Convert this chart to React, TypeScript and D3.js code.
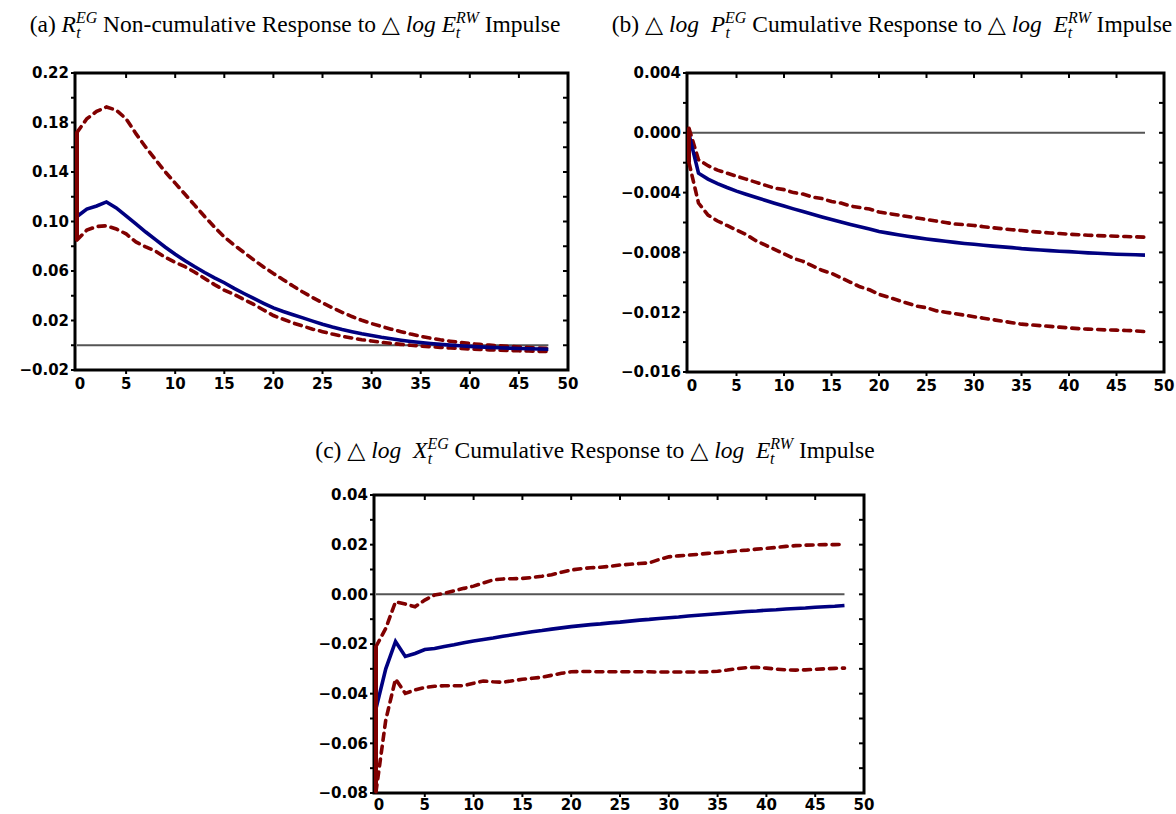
import React from 'react';
import * as d3 from 'd3';

const W = 1176;
const H = 814;

// horizon 0..48
const periods = d3.range(0, 49);
const xTicks = [0, 5, 10, 15, 20, 25, 30, 35, 40, 45, 50];

// (a) R non-cumulative response
const aMedian = [
  0.104, 0.11, 0.1125, 0.1158, 0.111, 0.1045, 0.098, 0.0915, 0.0853, 0.0792,
  0.0735, 0.0683, 0.0634, 0.0588, 0.0545, 0.0505, 0.046, 0.0418, 0.0378, 0.0339,
  0.0302, 0.0273, 0.0247, 0.0221, 0.0195, 0.017, 0.0148, 0.0128, 0.011, 0.0093,
  0.0078, 0.0064, 0.0052, 0.0041, 0.0031, 0.0022, 0.0014, 0.0007, 0.0001, -0.0004,
  -0.0009, -0.0013, -0.0017, -0.002, -0.0023, -0.0026, -0.0028, -0.003, -0.0032
];
const aUpper = [
  0.172, 0.183, 0.189, 0.1925, 0.19, 0.183, 0.171, 0.16, 0.15, 0.14,
  0.131, 0.122, 0.113, 0.104, 0.0955, 0.0875, 0.081, 0.075, 0.069, 0.0633,
  0.058, 0.053, 0.0478, 0.043, 0.0385, 0.0342, 0.0303, 0.0266, 0.0232, 0.0202,
  0.0175, 0.0152, 0.013, 0.011, 0.009, 0.0072, 0.0057, 0.0044, 0.0033, 0.0023,
  0.0014, 0.0007, 0.0001, -0.0004, -0.0009, -0.0014, -0.0018, -0.0022, -0.0026
];
const aLower = [
  0.085, 0.093, 0.096, 0.0965, 0.094, 0.09, 0.0835, 0.0795, 0.076, 0.071,
  0.067, 0.0635, 0.059, 0.054, 0.049, 0.0445, 0.041, 0.037, 0.033, 0.0285,
  0.024, 0.021, 0.018, 0.0155, 0.013, 0.011, 0.009, 0.0073, 0.0058, 0.0045,
  0.0034, 0.0024, 0.0015, 0.0007, 0.0, -0.0006, -0.0012, -0.0017, -0.0022, -0.0026,
  -0.003, -0.0034, -0.0037, -0.004, -0.0043, -0.0045, -0.0047, -0.0049, -0.0051
];

// (b) P cumulative response
const bMedian = [
  -0.0001, -0.0027, -0.0031, -0.0034, -0.00366, -0.0039, -0.00411, -0.00431, -0.00451, -0.00471,
  -0.0049, -0.00509, -0.00527, -0.00545, -0.00563, -0.0058, -0.00597, -0.00613, -0.00628, -0.00643,
  -0.0066, -0.00671, -0.00682, -0.00692, -0.00701, -0.0071, -0.00718, -0.00726, -0.00733, -0.0074,
  -0.00746, -0.00752, -0.00758, -0.00763, -0.00768, -0.00775, -0.0078, -0.00784, -0.00788, -0.00792,
  -0.00795, -0.00799, -0.00803, -0.00806, -0.00809, -0.00812, -0.00814, -0.00816, -0.00818
];
const bUpper = [
  0.0003, -0.0018, -0.0022, -0.0025, -0.0027, -0.0029, -0.0031, -0.0033, -0.0035, -0.0037,
  -0.0038, -0.004, -0.0041, -0.0043, -0.0044, -0.0046, -0.0047, -0.0049, -0.005, -0.0051,
  -0.0053, -0.0054, -0.0055, -0.0056, -0.0057, -0.0058, -0.0059, -0.006, -0.0061, -0.00615,
  -0.0062, -0.00628, -0.00635, -0.00642, -0.00648, -0.00654, -0.0066, -0.00665, -0.0067, -0.00674,
  -0.00678, -0.00682, -0.00685, -0.00688, -0.0069, -0.00692, -0.00694, -0.00696, -0.00698
];
const bLower = [
  -0.002, -0.0047, -0.0055, -0.0059, -0.0062, -0.0065, -0.0068, -0.0072, -0.0075, -0.0078,
  -0.0081, -0.0084, -0.0086, -0.0089, -0.0092, -0.0094, -0.0097, -0.01, -0.0103, -0.0105,
  -0.0108, -0.011, -0.0112, -0.0114, -0.0116, -0.0117, -0.0119, -0.012, -0.0121, -0.0122,
  -0.0123, -0.0124, -0.0125, -0.0126, -0.0127, -0.0128, -0.01285, -0.0129, -0.01295, -0.013,
  -0.01305, -0.0131, -0.01313, -0.01316, -0.01319, -0.0132, -0.01322, -0.01325, -0.0133
];

// (c) X cumulative response
const cMedian = [
  -0.046, -0.03, -0.019, -0.025, -0.0238, -0.0222, -0.0218, -0.021, -0.0203, -0.0195,
  -0.0188, -0.0182, -0.0176, -0.0169, -0.0163, -0.0157, -0.0151, -0.0146, -0.014, -0.0135,
  -0.013, -0.0126, -0.0122, -0.0119, -0.0115, -0.0112, -0.0108, -0.0104, -0.0101, -0.0097,
  -0.0094, -0.0091, -0.0087, -0.0084, -0.0081, -0.0078, -0.0075, -0.0072, -0.0069, -0.0067,
  -0.0064, -0.0062, -0.0059, -0.0057, -0.0055, -0.0052, -0.005, -0.0048, -0.0045
];
const cUpper = [
  -0.021, -0.0137, -0.003, -0.0039, -0.005, -0.0023, -0.0003, 0.0004, 0.0014, 0.0024,
  0.0033, 0.0046, 0.0058, 0.0062, 0.0063, 0.0064, 0.0068, 0.0073, 0.0079, 0.0089,
  0.0098, 0.0103, 0.0107, 0.0109, 0.0113, 0.0118, 0.0121, 0.0124, 0.0127, 0.014,
  0.0151, 0.0155, 0.0158, 0.0161, 0.0165, 0.0168, 0.0171, 0.0175, 0.0178, 0.0182,
  0.0185, 0.0189, 0.0193, 0.0196, 0.0198, 0.0199, 0.02, 0.02, 0.0201
];
const cLower = [
  -0.0795, -0.0506, -0.0341, -0.0399, -0.0385, -0.0375, -0.037, -0.0368, -0.0368, -0.0368,
  -0.0358, -0.0349, -0.0352, -0.0354, -0.0348, -0.0342, -0.0338, -0.0334, -0.0326, -0.0318,
  -0.0312, -0.0311, -0.0311, -0.0312, -0.0312, -0.0312, -0.0312, -0.0312, -0.0312, -0.0313,
  -0.0313, -0.0313, -0.0313, -0.0313, -0.0312, -0.031, -0.0305, -0.0299, -0.0295, -0.0294,
  -0.0297, -0.0301, -0.0304, -0.0305, -0.0304, -0.0302, -0.03, -0.0298, -0.0297
];

const aYTicks = [-0.02, 0.02, 0.06, 0.1, 0.14, 0.18, 0.22];
const bYTicks = [-0.016, -0.012, -0.008, -0.004, 0.0, 0.004];
const cYTicks = [-0.08, -0.06, -0.04, -0.02, 0.0, 0.02, 0.04];

const RED = '#800000';
const BLUE = '#000080';
const tickFont = '"DejaVu Sans", sans-serif';
const titleFont = '"Liberation Serif", "DejaVu Serif", serif';

function Panel({ box, yDomain, yTicks, minorStep, digits, median, upper, lower, labelDy = 19 }) {
  const x = d3.scaleLinear().domain([0, 50]).range([box.left + 2, box.right]);
  const y = d3.scaleLinear().domain(yDomain).range([box.bottom, box.top]);
  const line = d3.line<number>().x((_, i) => x(periods[i])).y(d => y(d));
  const fmt = d3.format(`.${digits}f`);
  const minor = d3.range(Math.round((yDomain[1] - yDomain[0]) / minorStep) + 1).map(i => yDomain[0] + i * minorStep);
  const tl = 5;
  return (
    <g>
      {/* frame and ticks */}
      <rect x={box.left} y={box.top} width={box.right - box.left} height={box.bottom - box.top} fill="none" stroke="#000" strokeWidth={3} />
      {minor.map((v, i) => (
        <g key={'m' + i}>
          <line x1={box.left} x2={box.left - 4} y1={y(v)} y2={y(v)} stroke="#000" strokeWidth={2} />
          <line x1={box.right} x2={box.right - tl} y1={y(v)} y2={y(v)} stroke="#000" strokeWidth={2} />
        </g>
      ))}
      {xTicks.slice(1, -1).map(t => (
        <g key={'xt' + t}>
          <line x1={x(t)} x2={x(t)} y1={box.top} y2={box.top + tl} stroke="#000" strokeWidth={2} />
          <line x1={x(t)} x2={x(t)} y1={box.bottom} y2={box.bottom + 4} stroke="#000" strokeWidth={2} />
        </g>
      ))}
      {yTicks.map(t => (
        <text key={'yl' + t} x={box.left - 6} y={y(t)} dy="0.36em" textAnchor="end"
          fontFamily={tickFont} fontWeight="bold" fontSize={15}>{fmt(t)}</text>
      ))}
      {xTicks.map(t => (
        <text key={'xl' + t} x={t === 0 ? x(t) + 3 : x(t)} y={box.bottom + labelDy} textAnchor="middle"
          fontFamily={tickFont} fontWeight="bold" fontSize={15}>{t}</text>
      ))}
      {/* zero line */}
      <line x1={x(0)} x2={x(48)} y1={y(0)} y2={y(0)} stroke="#555" strokeWidth={2} />
      {/* confidence bands and median */}
      <path d={line(upper)} fill="none" stroke={RED} strokeWidth={3.6} strokeDasharray="7,6" strokeLinecap="round" />
      <path d={line(lower)} fill="none" stroke={RED} strokeWidth={3.6} strokeDasharray="7,6" strokeLinecap="round" />
      <path d={line(median)} fill="none" stroke={BLUE} strokeWidth={3.6} />
      <line x1={x(0)} x2={x(0)} y1={y(upper[0])} y2={y(lower[0])} stroke={RED} strokeWidth={4} />
    </g>
  );
}

// a variable with stacked superscript and subscript t
function Var({ base, sup, supW }) {
  return (
    <>
      <tspan fontStyle="italic">{base}</tspan>
      <tspan fontStyle="italic" fontSize={16} dy={-9}>{sup}</tspan>
      <tspan fontStyle="italic" fontSize={16} dx={-supW} dy={15}>t</tspan>
      <tspan dx={supW - 4.5} dy={-6}>{'\u00a0'}</tspan>
    </>
  );
}

export default function App() {
  return (
    <svg width={W} height={H} style={{ position: 'absolute', left: 0, top: 0, background: '#fff' }}>
      <text x={295} y={32} textAnchor="middle" fontFamily={titleFont} fontSize={23.5}>
        <tspan>(a) </tspan>
        <Var base="R" sup="EG" supW={21} />
        <tspan>Non-cumulative Response to △ </tspan>
        <tspan fontStyle="italic">log </tspan>
        <Var base="E" sup="RW" supW={23} />
        <tspan>Impulse</tspan>
      </text>
      <text x={892} y={32} textAnchor="middle" fontFamily={titleFont} fontSize={23.5}>
        <tspan>(b) △ </tspan>
        <tspan fontStyle="italic">log </tspan>
        <tspan>{'\u00a0'}</tspan>
        <Var base="P" sup="EG" supW={21} />
        <tspan>Cumulative Response to △ </tspan>
        <tspan fontStyle="italic">log </tspan>
        <tspan>{'\u00a0'}</tspan>
        <Var base="E" sup="RW" supW={23} />
        <tspan>Impulse</tspan>
      </text>
      <text x={595} y={458} textAnchor="middle" fontFamily={titleFont} fontSize={23.5}>
        <tspan>(c) △ </tspan>
        <tspan fontStyle="italic">log </tspan>
        <tspan>{'\u00a0'}</tspan>
        <Var base="X" sup="EG" supW={21} />
        <tspan>Cumulative Response to △ </tspan>
        <tspan fontStyle="italic">log </tspan>
        <tspan>{'\u00a0'}</tspan>
        <Var base="E" sup="RW" supW={23} />
        <tspan>Impulse</tspan>
      </text>
      <Panel box={{ left: 75, right: 568, top: 73, bottom: 370 }} yDomain={[-0.02, 0.22]} yTicks={aYTicks}
        minorStep={0.02} digits={2} median={aMedian} upper={aUpper} lower={aLower} />
      <Panel box={{ left: 687, right: 1164, top: 73, bottom: 372 }} yDomain={[-0.016, 0.004]} yTicks={bYTicks}
        minorStep={0.002} digits={3} median={bMedian} upper={bUpper} lower={bLower} />
      <Panel box={{ left: 374, right: 864, top: 495, bottom: 793 }} yDomain={[-0.08, 0.04]} yTicks={cYTicks}
        minorStep={0.01} digits={2} median={cMedian} upper={cUpper} lower={cLower} labelDy={17} />
    </svg>
  );
}
